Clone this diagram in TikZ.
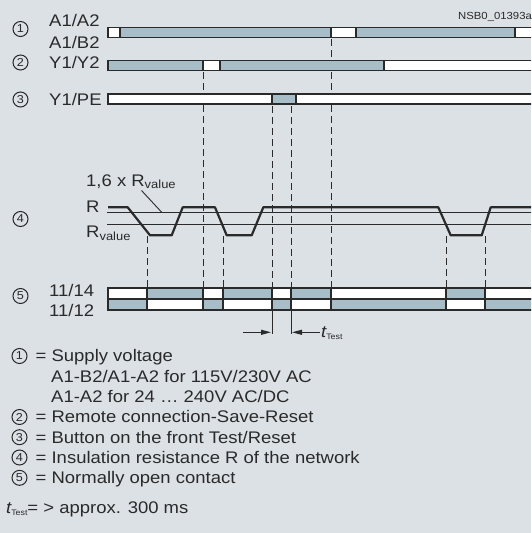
\documentclass[tikz,border=0pt]{standalone}
\usepackage{fontspec}
\setmainfont{Liberation Sans}[FakeStretch=1.1]
\usetikzlibrary{arrows.meta}
\definecolor{bgpanel}{HTML}{DCE1E5}
\definecolor{barblue}{HTML}{A7BDC7}
\definecolor{ink}{HTML}{2A2A2A}

\begin{document}
\begin{tikzpicture}[
    x=1pt, y=-1pt,
    lbl/.style={inner sep=0pt, anchor=base west, text=ink, font=\fontsize{16.8}{19}\selectfont},
    cnum/.style={circle, draw=ink, line width=1pt, minimum size=15pt, inner sep=0pt, text=ink, font=\fontsize{11.5}{11.5}\selectfont},
    seg/.style={draw=ink, line width=1.8pt},
    lvl/.style={draw=ink, line width=0.9pt},
    wave/.style={draw=ink, line width=2.2pt, line join=round},
    guide/.style={draw=ink, line width=0.9pt, dash pattern=on 7pt off 4pt},
    tarrow/.style={-{Triangle[length=10pt, width=5pt]}, draw=ink, line width=1pt}
]
%% panel
\clip (0,0) rectangle (531,533);
\fill[bgpanel] (0,0) rectangle (531,533);
\node[lbl, font=\fontsize{10.3}{10.3}\selectfont] (drawno) at (458,19.5) {NSB0\_01393a};
% --- Circled row numbers ---
\foreach \i/\y in {1/29, 2/62.5, 3/99.5, 4/219, 5/296} {
    \node[cnum] (num\i) at (20.5,\y) {\i};
}
% --- Row labels ---
\node[lbl] (a1a2) at (49,26.6)  {A1/A2};
\node[lbl] (a1b2) at (49,48.6)  {A1/B2};
\node[lbl] (y1y2) at (49,68.6)  {Y1/Y2};
\node[lbl] (y1pe) at (49,105.2) {Y1/PE};
\node[lbl] (c1114) at (49,296.6) {11/14};
\node[lbl] (c1112) at (49,316.6) {11/12};
% --- Dashed guides (drawn first, bars go over them) ---
\foreach \x/\ya in {147/236, 223/236, 446/236, 485/236, 203/72, 331/39, 272/106, 291/106} {
    \draw[guide] (\x,\ya) -- (\x,287);
}
% --- Row 1: supply ---
\foreach \xa/\xb/\col in {108/120/white, 120/331/barblue, 331/356/white, 356/515/barblue, 515/545/white} {
    \draw[seg, fill=\col] (\xa,27.5) rectangle (\xb,37.5);
}
% --- Row 2: remote reset ---
\foreach \xa/\xb/\col in {108/203/barblue, 203/220/white, 220/384/barblue, 384/545/white} {
    \draw[seg, fill=\col] (\xa,60.5) rectangle (\xb,70.5);
}
% --- Row 3: test button ---
\foreach \xa/\xb/\col in {108/272/white, 272/296/barblue, 296/545/white} {
    \draw[seg, fill=\col] (\xa,94) rectangle (\xb,104);
}
% --- Row 4: insulation resistance ---
\draw[lvl] (107,212.3) -- (545,212.3);
\draw[lvl] (107,224.3) -- (545,224.3);
\draw[wave] (108,207.3) -- (127.7,207.3) -- (150,235.3) -- (171.7,235.3) -- (182.7,207.3)
    -- (215,207.3) -- (226.7,235.3) -- (251.7,235.3) -- (263.3,207.3) -- (438.3,207.3)
    -- (450.7,235.3) -- (481.7,235.3) -- (490.7,207.3) -- (545,207.3);
\node[lbl] (rlbl) at (86,212.6) {R};
\node[lbl] (rval) at (86,237.6) {R\textsubscript{value}};
\node[lbl] (fac) at (86,186) {1,6 x R\textsubscript{value}};
\coordinate (leadA) at (141.5,190.5);
\coordinate (leadB) at (161.7,212.3);
\draw[lvl] (leadA) -- (leadB);
% --- Row 5: contacts ---
\foreach \xa/\xb/\ctop/\cbot in {108/147/white/barblue, 147/203/barblue/white, 203/223/white/barblue,
    223/272/barblue/white, 272/291/white/barblue, 291/331/barblue/white, 331/446/white/barblue,
    446/485/barblue/white, 485/545/white/barblue} {
    \draw[seg, fill=\ctop] (\xa,288) rectangle (\xb,299);
    \draw[seg, fill=\cbot] (\xa,299) rectangle (\xb,310);
}
% --- t_Test mark ---
\coordinate (tstA) at (272,311);
\coordinate (tstB) at (291,311);
\coordinate (tstA2) at (272,334);
\coordinate (tstB2) at (291,334);
\draw[lvl] (tstA) -- (tstA2);
\draw[lvl] (tstB) -- (tstB2);
\coordinate (arrL) at (242.7,332.3);
\coordinate (arrR) at (320,332.3);
\draw[tarrow] (arrL) -- (271,332.3);
\draw[tarrow] (arrR) -- (292,332.3);
\node[lbl] (tlbl) at (321,337) {\itshape t\upshape\raisebox{-2pt}{\fontsize{8}{8}\selectfont Test}};
% --- Key ---
\foreach \i/\y in {1/356, 2/417, 3/437.2, 4/457.5, 5/477.8} {
    \node[cnum] (key\i) at (19.5,\y) {\i};
}
\node[lbl] (key1t) at (35.5,361.9) {= Supply voltage};
\node[lbl] (key1b) at (51,382.2)   {A1-B2/A1-A2 for 115V/230V AC};
\node[lbl] (key1c) at (51,402.5)   {A1-A2 for 24 … 240V AC/DC};
\node[lbl] (key2t) at (35.5,422.9) {= Remote connection-Save-Reset};
\node[lbl] (key3t) at (35.5,443.1) {= Button on the front Test/Reset};
\node[lbl] (key4t) at (35.5,463.4) {= Insulation resistance R of the network};
\node[lbl] (key5t) at (35.5,483.7) {= Normally open contact};
\node[lbl] (ttest) at (6,513.9) {\itshape t\upshape\raisebox{-2pt}{\fontsize{8}{8}\selectfont Test}= > approx. 300 ms};
\end{tikzpicture}
\end{document}
